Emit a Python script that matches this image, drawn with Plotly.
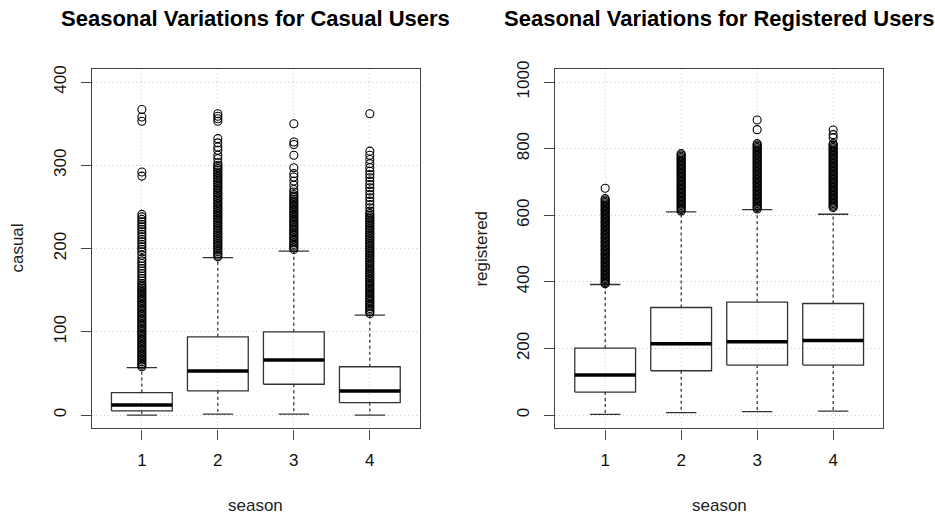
import plotly.graph_objects as go

seasons = [1, 2, 3, 4]
season_labels = ["1", "2", "3", "4"]

# ---- casual users: box statistics (lower whisker, Q1, median, Q3, upper whisker)
casual_low = [0, 1, 1, 0]
casual_q1 = [5, 29, 37, 15]
casual_med = [12, 53, 66, 29]
casual_q3 = [27, 94, 100, 58]
casual_high = [57, 189, 197, 120]

casual_out_1 = [367, 358, 353, 292, 287, 241, 238, 235, 232, 229, 226, 223, 220, 217, 214,
                211, 208, 205, 202, 199, 196, 192, 188, 185, 182, 179, 176, 173, 170, 167,
                164, 161, 158, 156, 154, 152, 150, 148, 146, 144, 142, 140, 138, 136, 134,
                132, 130, 128, 126, 124, 122, 120, 118, 116, 114, 112, 110, 108, 106, 104,
                102, 100, 98, 96, 94, 92, 90, 88, 86, 84, 82, 80, 78, 76, 74, 72, 70, 68,
                66, 64, 62, 60, 58]
casual_out_2 = [362, 359, 356, 353, 332, 327, 322, 318, 312, 308, 303, 300, 298, 296, 294,
                292, 290, 288, 286, 284, 282, 280, 278, 276, 274, 272, 270, 268, 266, 264,
                262, 260, 258, 256, 254, 252, 250, 248, 246, 244, 242, 240, 238, 236, 234,
                232, 230, 228, 226, 224, 222, 220, 218, 216, 214, 212, 210, 208, 206, 204,
                202, 200, 198, 196, 194, 192, 190]
casual_out_3 = [350, 328, 325, 312, 297, 290, 286, 281, 276, 271, 268, 265, 263, 261, 259,
                257, 255, 253, 251, 249, 247, 245, 243, 241, 239, 237, 235, 233, 231, 229,
                227, 225, 223, 221, 219, 217, 215, 213, 211, 209, 207, 205, 203, 201, 199]
casual_out_4 = [362, 317, 312, 307, 302, 297, 293, 289, 285, 281, 277, 273, 269, 265, 261,
                257, 253, 249, 245, 242, 240, 238, 236, 234, 232, 230, 228, 226, 224, 222,
                220, 218, 216, 214, 212, 210, 208, 206, 204, 202, 200, 198, 196, 194, 192,
                190, 188, 186, 184, 182, 180, 178, 176, 174, 172, 170, 168, 166, 164, 162,
                160, 158, 156, 154, 152, 150, 148, 146, 144, 142, 140, 138, 136, 134, 132,
                130, 128, 126, 124, 122]
casual_out = [casual_out_1, casual_out_2, casual_out_3, casual_out_4]

# ---- registered users
reg_low = [2, 7, 10, 12]
reg_q1 = [69, 133, 150, 150]
reg_med = [120, 214, 220, 224]
reg_q3 = [201, 323, 339, 335]
reg_high = [392, 610, 617, 603]

reg_out_1 = [681, 650, 646, 642, 638, 634, 630, 626, 622, 618, 614, 610, 606, 602, 598,
             594, 590, 586, 582, 578, 574, 570, 566, 562, 558, 554, 550, 546, 542, 538,
             534, 530, 526, 522, 518, 514, 510, 506, 502, 498, 494, 490, 486, 482, 478,
             474, 470, 466, 462, 458, 454, 450, 446, 442, 438, 434, 430, 426, 422, 418,
             414, 410, 406, 402, 398, 394]
reg_out_2 = [785, 781, 777, 773, 769, 765, 761, 757, 753, 749, 745, 741, 737, 733, 729,
             725, 721, 717, 713, 709, 705, 701, 697, 693, 689, 685, 681, 677, 673, 669,
             665, 661, 657, 653, 649, 645, 641, 637, 633, 629, 625, 621, 617, 613]
reg_out_3 = [886, 857, 815, 811, 807, 803, 799, 795, 791, 787, 783, 779, 775, 771, 767,
             763, 759, 755, 751, 747, 743, 739, 735, 731, 727, 723, 719, 715, 711, 707,
             703, 699, 695, 691, 687, 683, 679, 675, 671, 667, 663, 659, 655, 651, 647,
             643, 639, 635, 631, 627, 623, 619]
reg_out_4 = [856, 842, 833, 815, 811, 807, 803, 799, 795, 791, 787, 783, 779, 775, 771,
             767, 763, 759, 755, 751, 747, 743, 739, 735, 731, 727, 723, 719, 715, 711,
             707, 703, 699, 695, 691, 687, 683, 679, 675, 671, 667, 663, 659, 655, 651,
             647, 643, 639, 635, 631, 627, 623]
reg_out = [reg_out_1, reg_out_2, reg_out_3, reg_out_4]

titles = ["Seasonal Variations for Casual Users", "Seasonal Variations for Registered Users"]
y_titles = ["casual", "registered"]
x_title = "season"
y_ticks = [[0, 100, 200, 300, 400], [0, 200, 400, 600, 800, 1000]]
y_ranges = [[-16, 416], [-40, 1040]]

BOXW = 0.4      # half box width (boxwex 0.8)
STAPLE = 0.2    # half staple width
LINE = "#333333"
W, H = 935, 514

fig = go.Figure()


def add_panel(k, low, q1, med, q3, high, outs):
    xa = "x" if k == 0 else "x2"
    ya = "y" if k == 0 else "y2"
    for i, s in enumerate(seasons):
        # whiskers (dashed)
        fig.add_trace(go.Scatter(x=[s, s, None, s, s], y=[q3[i], high[i], None, q1[i], low[i]],
                                 mode="lines", line=dict(color="#000000", width=1, dash="3px,3px"),
                                 xaxis=xa, yaxis=ya, showlegend=False, hoverinfo="skip"))
        # staples
        fig.add_trace(go.Scatter(x=[s - STAPLE, s + STAPLE, None, s - STAPLE, s + STAPLE],
                                 y=[high[i], high[i], None, low[i], low[i]],
                                 mode="lines", line=dict(color=LINE, width=1.3),
                                 xaxis=xa, yaxis=ya, showlegend=False, hoverinfo="skip"))
        # box
        fig.add_trace(go.Scatter(x=[s - BOXW, s + BOXW, s + BOXW, s - BOXW, s - BOXW],
                                 y=[q1[i], q1[i], q3[i], q3[i], q1[i]],
                                 mode="lines", line=dict(color=LINE, width=1.3),
                                 xaxis=xa, yaxis=ya, showlegend=False, hoverinfo="skip"))
        # median
        fig.add_trace(go.Scatter(x=[s - BOXW, s + BOXW], y=[med[i], med[i]],
                                 mode="lines", line=dict(color="#000000", width=3.5),
                                 xaxis=xa, yaxis=ya, showlegend=False, hoverinfo="skip"))
        # outliers
        fig.add_trace(go.Scatter(x=[s] * len(outs[i]), y=outs[i], mode="markers",
                                 marker=dict(symbol="circle-open", size=8, color="#000000",
                                             line=dict(width=1.1, color="#000000")),
                                 xaxis=xa, yaxis=ya, showlegend=False, hoverinfo="skip"))


add_panel(0, casual_low, casual_q1, casual_med, casual_q3, casual_high, casual_out)
add_panel(1, reg_low, reg_q1, reg_med, reg_q3, reg_high, reg_out)

top, bottom = 61.7, 427.0
ydom = [1 - bottom / H, 1 - top / H]
xdoms = [[91.7 / W, 420.0 / W], [555.0 / W, 883.3 / W]]

font = "Liberation Sans, Arial, sans-serif"
common_axis = dict(showline=True, mirror=True, linecolor="#444444", linewidth=1.3,
                   ticks="outside", ticklen=10, tickwidth=1.3, tickcolor="#444444",
                   showgrid=True, gridcolor="#cccccc", griddash="1px,3px", gridwidth=1,
                   zeroline=False, tickfont=dict(family=font, size=17, color="#111111"))

layout = dict(width=W, height=H, margin=dict(l=0, r=0, t=0, b=0),
              plot_bgcolor="white", paper_bgcolor="white", showlegend=False)
for k in range(2):
    xs = "xaxis" if k == 0 else "xaxis2"
    ys = "yaxis" if k == 0 else "yaxis2"
    layout[xs] = dict(common_axis, domain=xdoms[k], range=[0.34, 4.66],
                      tickvals=seasons, ticktext=season_labels, ticklabelstandoff=6,
                      anchor="y" if k == 0 else "y2")
    layout[ys] = dict(common_axis, domain=ydom, range=y_ranges[k], tickvals=y_ticks[k],
                      tickangle=-90, ticklabelstandoff=8,
                      anchor="x" if k == 0 else "x2")
fig.update_layout(**layout)

annotations = []
for k in range(2):
    cx = (xdoms[k][0] + xdoms[k][1]) / 2
    annotations.append(dict(text="<b>" + titles[k] + "</b>", x=cx, y=1 - 11 / H,
                            xref="paper", yref="paper", showarrow=False,
                            xanchor="center", yanchor="middle",
                            font=dict(family=font, size=22, color="#000000")))
    annotations.append(dict(text=x_title, x=cx, y=1 - 505 / H, xref="paper", yref="paper",
                            showarrow=False, xanchor="center", yanchor="middle",
                            font=dict(family=font, size=17, color="#222222")))
    yx = [18, 482][k]
    annotations.append(dict(text=y_titles[k], x=yx / W, y=(ydom[0] + ydom[1]) / 2,
                            xref="paper", yref="paper", showarrow=False, textangle=-90,
                            xanchor="center", yanchor="middle",
                            font=dict(family=font, size=17, color="#222222")))
fig.update_layout(annotations=annotations)

fig.write_html("out.html")
